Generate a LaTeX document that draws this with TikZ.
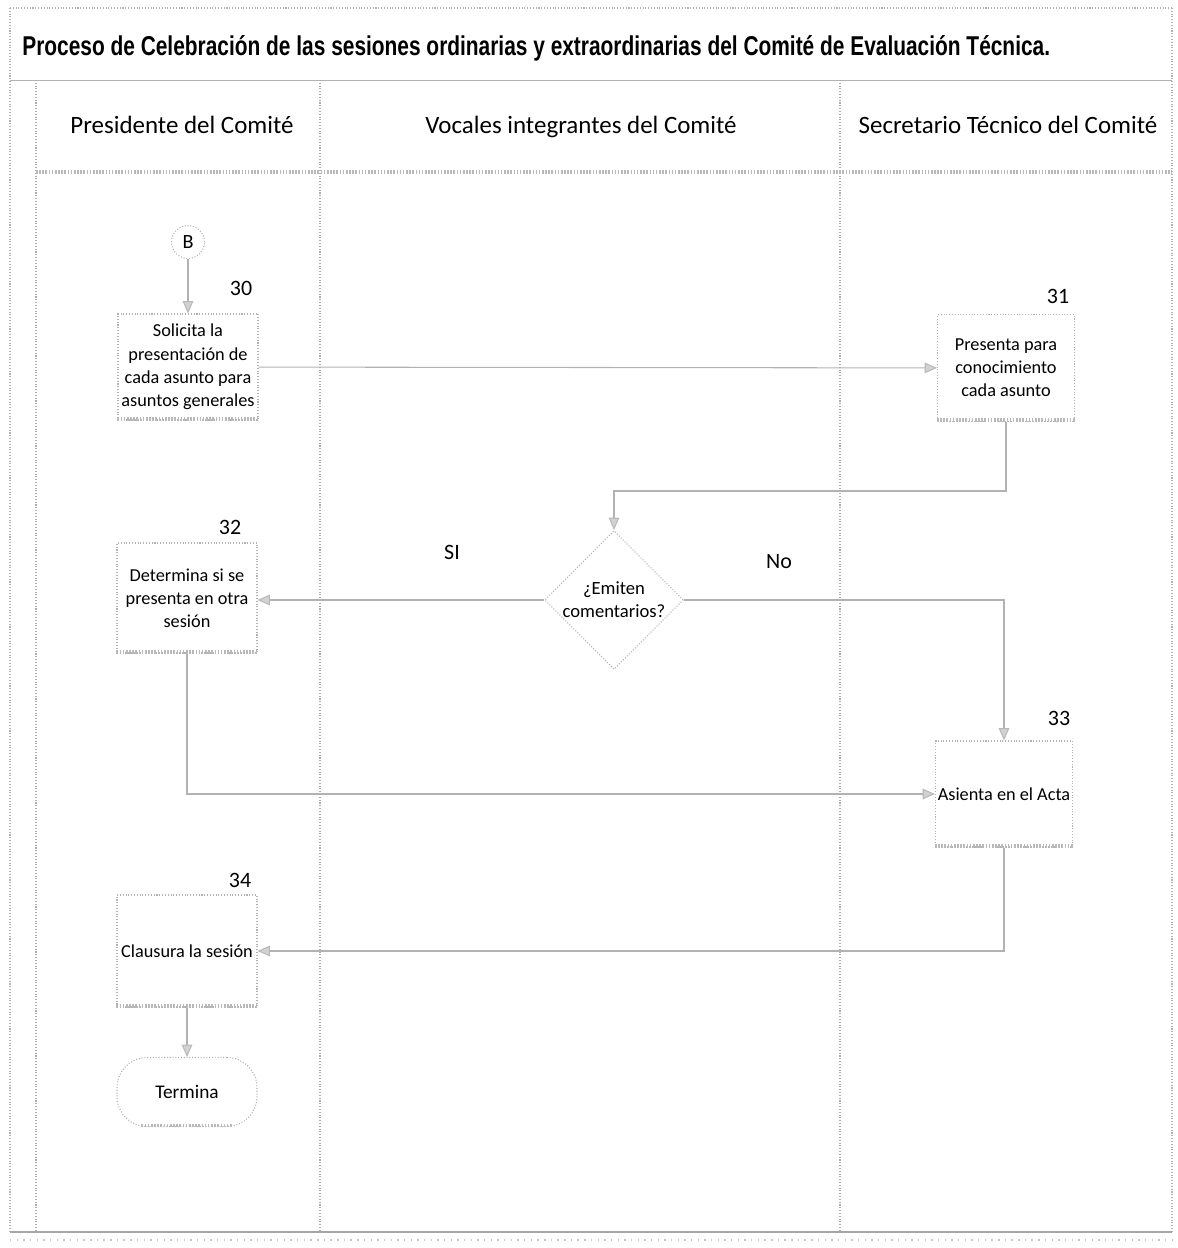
\documentclass[tikz,border=0pt]{standalone}
\usepackage{fontspec}
\usepackage{graphicx}
\setmainfont{Carlito}
\newfontfamily\titlefont{Liberation Sans}
\newfontfamily\headfont{Carlito}
\newfontfamily\boxfont{Carlito}
\usetikzlibrary{arrows.meta,shapes.geometric,calc}

\tikzset{
  frameline/.style={draw=gray!60, line width=0.6pt, densely dotted},
  laneline/.style={draw=gray!65, line width=0.6pt, densely dotted},
  bandline/.style={draw=gray!55, line width=2.2pt, dash pattern=on 0.9pt off 0.9pt},
  stepbox/.style={draw=gray!60, densely dotted, line width=0.6pt, fill=white,
    align=center, inner sep=1pt,
    font=\boxfont\fontsize{10.4}{13.2}\selectfont},
  decision/.style={diamond, draw=gray!60, densely dotted, line width=0.6pt, fill=white,
    align=center, inner sep=0pt, minimum width=2.54cm, minimum height=2.14cm,
    font=\boxfont\fontsize{10.6}{13.2}\selectfont},
  terminal/.style={draw=gray!60, densely dotted, line width=0.6pt, fill=white,
    rounded corners=0.6cm, minimum width=2.8cm, minimum height=1.38cm,
    font=\boxfont\fontsize{11}{13.2}\selectfont},
  connector/.style={circle, draw=gray!60, densely dotted, line width=0.6pt,
    minimum size=0.66cm, inner sep=0pt, font=\boxfont\fontsize{11.5}{13.2}\selectfont},
  flow/.style={draw=gray!60, line width=0.6pt,
    -{Triangle[length=7pt,width=6pt,color=gray!55,fill=gray!35]}},
  numlabel/.style={font=\boxfont\fontsize{12.5}{15}\selectfont, inner sep=0pt},
  lanehead/.style={font=\headfont\fontsize{14.2}{16}\selectfont, anchor=base, inner sep=0pt},
}

\begin{document}
\begin{tikzpicture}[x=0.02cm, y=-0.02cm]
\useasboundingbox (0,0) rectangle (1177,1248);

% outer frame and title strip
\draw[frameline] (10,8) -- (1172,8);
\draw[frameline] (10,8) -- (10,1232);
\draw[frameline] (1172,8) -- (1172,1232);
\draw[draw=gray!60, line width=0.5pt] (10,80) -- (1172,80);
\draw[draw=gray!70, line width=0.8pt] (10,1232) -- (1172,1232);
\draw[draw=gray!45, line width=1.6pt, dash pattern=on 0.8pt off 3pt] (10,1240) -- (1172,1240);

\node[anchor=base west, inner sep=0pt] (title) at (22,55)
  {\resizebox{585pt}{\height}{\titlefont\bfseries\fontsize{15.5}{18}\selectfont
   Proceso de Celebración de las sesiones ordinarias y extraordinarias del Comité de Evaluación Técnica.}};

% swimlanes
\draw[laneline] (36,80) -- (36,1232);
\draw[laneline] (320,80) -- (320,1232);
\draw[laneline] (840,80) -- (840,1232);
\draw[bandline] (36,172) -- (1172,172);

\node[lanehead] (laneA) at (182,133) {Presidente del Comité};
\node[lanehead] (laneB) at (581,133) {Vocales integrantes del Comité};
\node[lanehead] (laneC) at (1008,133) {Secretario Técnico del Comité};

% activities
\node[connector] (B) at (188,242) {B};
\node[stepbox, minimum width=2.8cm, minimum height=2.12cm] (n30) at (188,367)
  {Solicita la\\presentación de\\cada asunto para\\asuntos generales};
\node[stepbox, minimum width=2.74cm, minimum height=2.14cm] (n31) at (1006,368)
  {Presenta para\\conocimiento\\cada asunto};
\node[decision] (dec) at (614,600) {¿Emiten\\comentarios?};
\node[stepbox, minimum width=2.8cm, minimum height=2.2cm] (n32) at (187,598)
  {Determina si se\\presenta en otra\\sesión};
\node[stepbox, minimum width=2.74cm, minimum height=2.12cm] (n33) at (1004,794)
  {Asienta en el Acta};
\node[stepbox, minimum width=2.8cm, minimum height=2.24cm] (n34) at (187,951)
  {Clausura la sesión};
\node[terminal] (end) at (187,1092) {Termina};

% shaded lower edges
\foreach \n in {n30,n31,n32,n33,n34}
  \draw[bandline] ([yshift=1pt]\n.south west) -- ([yshift=1pt]\n.south east);
\draw[bandline, line width=1.6pt] ([xshift=0.5cm,yshift=1pt]end.south west) -- ([xshift=-0.5cm,yshift=1pt]end.south east);

% step numbers and branch labels
\node[numlabel] (l30) at (241,288) {30};
\node[numlabel] (l31) at (1058,296) {31};
\node[numlabel] (l32) at (230,527) {32};
\node[numlabel] (l33) at (1059,718) {33};
\node[numlabel] (l34) at (240,880) {34};
\node[numlabel] (si) at (452,552) {SI};
\node[numlabel] (no) at (779,562) {No};

% flow
\draw[flow] (B) -- (n30);
\draw[flow] (n30) -- (n31);
\draw[flow] (n31.south) -- (n31.south |- 0,491) -| (dec.north);
\draw[flow] (dec.west) -- (n32.east |- dec.west);
\draw[flow] (dec.east) -| (n33.north);
\draw[flow] (n32.south) |- (n33.west);
\draw[flow] (n33.south) |- (n34.east);
\draw[flow] (n34) -- (end);
\end{tikzpicture}
\end{document}
